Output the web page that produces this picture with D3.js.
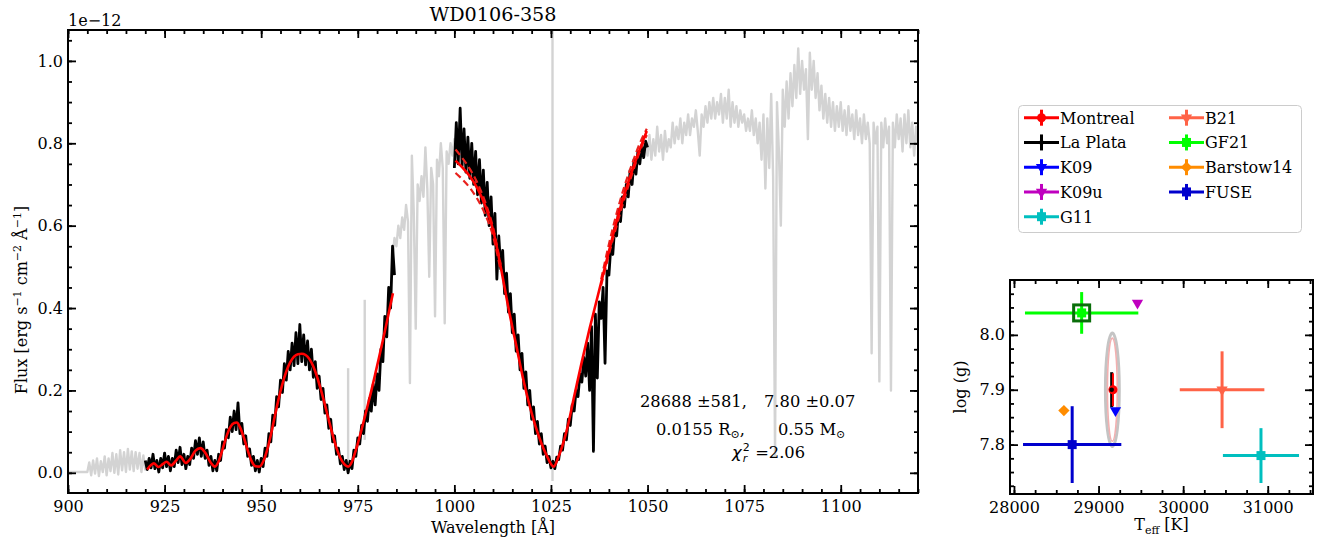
<!DOCTYPE html>
<html>
<head>
<meta charset="utf-8">
<script src="https://cdn.jsdelivr.net/npm/d3@7"></script>
<style>
  body { margin: 0; background: #fff; }
  svg text { font-family: 'DejaVu Serif', serif; fill: #000; }
</style>
</head>
<body>
<div id="chart"></div>
<script>
// ---- spectrum (flux in 1e-12 erg/s/cm2/A), sampled every 0.5 A from the start wavelength ----
const specStep = 0.5

// full spectrum (light grey), only the parts not hidden by the fitted data
const grayStartA = 900
const grayFluxA = [
  0.002, 0.002, 0.002, 0.002, 0.002, 0.002, 0.002, 0.002, 0.002, 0.002, 0.002,
  0.025, -0.006, 0.030, -0.002, 0.035, -0.008, 0.028, 0.002, 0.040, -0.006,
  0.035, 0.004, 0.048, 0.000, 0.045, -0.004, 0.055, 0.006, 0.050, 0.002,
  0.058, 0.008, 0.052, 0.004, 0.050, 0.010, 0.048, 0.002, 0.042, 0.008, 0.030
]
const grayStartB = 984
const grayFluxB = [
  0.52, 0.57, 0.55, 0.60, 0.57, 0.62, 0.59, 0.65, 0.61, 0.218,
  0.77, 0.63, 0.35, 0.70, 0.66, 0.72, 0.67, 0.79, 0.69, 0.476,
  0.74, 0.70, 0.38, 0.76, 0.72, 0.80, 0.74, 0.363, 0.78, 0.75,
  0.80, 0.77, 0.81, 0.78
]
const grayStartC = 1049.5
const grayFluxC = [
  0.80, 0.77, 0.82, 0.76, 0.81, 0.77, 0.84, 0.78, 0.82, 0.76,
  0.83, 0.78, 0.81, 0.79, 0.85, 0.80, 0.84, 0.81, 0.86, 0.80,
  0.85, 0.82, 0.87, 0.82, 0.86, 0.84, 0.88, 0.83, 0.77, 0.87,
  0.84, 0.89, 0.85, 0.90, 0.86, 0.91, 0.86, 0.90, 0.87, 0.92,
  0.85, 0.91, 0.86, 0.93, 0.84, 0.90, 0.85, 0.89, 0.84, 0.88,
  0.85, 0.87, 0.83, 0.86, 0.83, 0.88, 0.82, 0.86, 0.80, 0.85,
  0.76, 0.87, 0.69, 0.86, 0.74, 0.92, 0.72, 0.044, 0.90, 0.78,
  0.60, 0.93, 0.84, 0.95, 0.86, 0.97, 0.89, 0.99, 0.91, 1.03,
  0.92, 1.00, 0.93, 0.98, 0.81, 1.02, 0.93, 1.00, 0.91, 0.97,
  0.88, 0.94, 0.86, 0.92, 0.85, 0.91, 0.84, 0.90, 0.83, 0.89,
  0.84, 0.90, 0.83, 0.88, 0.82, 0.89, 0.83, 0.87, 0.81, 0.88,
  0.82, 0.86, 0.80, 0.87, 0.81, 0.85, 0.80, 0.29, 0.85, 0.80,
  0.84, 0.222, 0.85, 0.79, 0.86, 0.80, 0.84, 0.20, 0.85, 0.79,
  0.87, 0.81, 0.86, 0.78, 0.87, 0.80, 0.88, 0.79, 0.85, 0.77,
  0.84, 0.80
]
// narrow grey features sticking out of the fitted windows: [wavelength, low, high]
const graySpikes = [[972.5, 0.0, 0.254], [976.8, 0.08, 0.42], [1025.4, -0.02, 1.10]]

// fitted windows (black)
const fitStart1 = 920
const fitFlux1 = [
  0.030, 0.008, 0.035, 0.012, 0.045, 0.010, 0.030, 0.002, 0.035, 0.012,
  0.048, 0.015, 0.040, 0.005, 0.035, 0.015, 0.055, 0.025, 0.062, 0.020,
  0.045, 0.010, 0.040, 0.020, 0.060, 0.035, 0.078, 0.045, 0.085, 0.040,
  0.075, 0.035, 0.055, 0.018, 0.040, 0.005, 0.030, 0.005, 0.045, 0.030,
  0.075, 0.060, 0.105, 0.085, 0.135, 0.100, 0.150, 0.105, 0.170, 0.095,
  0.120, 0.070, 0.090, 0.040, 0.058, 0.018, 0.040, 0.005, 0.030, 0.002,
  0.035, 0.015, 0.060, 0.040, 0.095, 0.075, 0.140, 0.115, 0.185, 0.160,
  0.225, 0.195, 0.265, 0.225, 0.295, 0.250, 0.315, 0.260, 0.340, 0.265,
  0.360, 0.270, 0.335, 0.262, 0.320, 0.250, 0.300, 0.232, 0.270, 0.205,
  0.235, 0.178, 0.205, 0.145, 0.165, 0.108, 0.130, 0.075, 0.090, 0.045,
  0.060, 0.022, 0.040, 0.008, 0.030, 0.000, 0.028, 0.010, 0.055, 0.040,
  0.085, 0.070, 0.115, 0.095, 0.150, 0.125, 0.180, 0.150, 0.215, 0.165,
  0.240, 0.200, 0.300, 0.270, 0.380, 0.330, 0.450, 0.400, 0.550, 0.480
]
const fitStart2 = 1000
const fitFlux2 = [
  0.740, 0.850, 0.750, 0.885, 0.745, 0.835, 0.730, 0.815, 0.715, 0.800,
  0.700, 0.780, 0.675, 0.760, 0.655, 0.735, 0.625, 0.705, 0.600, 0.670,
  0.555, 0.630, 0.470, 0.575, 0.495, 0.540, 0.435, 0.485, 0.390, 0.435,
  0.340, 0.385, 0.295, 0.335, 0.250, 0.290, 0.205, 0.245, 0.165, 0.200,
  0.130, 0.160, 0.095, 0.125, 0.070, 0.095, 0.045, 0.065, 0.025, 0.040,
  0.012, 0.028, 0.010, 0.038, 0.032, 0.065, 0.055, 0.095, 0.080, 0.130,
  0.115, 0.165, 0.150, 0.200, 0.185, 0.240, 0.220, 0.280, 0.235, 0.315,
  0.200, 0.355, 0.052, 0.385, 0.230, 0.415, 0.375, 0.450, 0.266, 0.490,
  0.480, 0.550, 0.530, 0.595, 0.575, 0.640, 0.610, 0.670, 0.645, 0.700,
  0.670, 0.735, 0.700, 0.760, 0.725, 0.780, 0.750, 0.795, 0.765, 0.805,
  0.790
]

// best model (red, solid): [wavelength, flux]
const model1 = [
  [920.5, 0.008], [921.5, 0.019], [922.2, 0.023], [923.4, 0.014], [924.5, 0.021], [925.5, 0.027],
  [926.7, 0.018], [928, 0.030], [929, 0.040], [930.5, 0.024], [931.5, 0.032], [933, 0.054],
  [934.3, 0.060], [935.5, 0.049], [937, 0.024], [938, 0.015], [939, 0.028], [940, 0.057],
  [941, 0.088], [942, 0.111], [943, 0.121], [943.7, 0.122], [944.5, 0.111], [945.5, 0.086],
  [946.5, 0.055], [947.5, 0.029], [948.5, 0.016], [949.5, 0.015], [950.5, 0.027], [951.5, 0.054],
  [952.5, 0.092], [953.5, 0.136], [954.5, 0.179], [955.5, 0.216], [956.5, 0.246], [957.5, 0.268],
  [958.5, 0.282], [959.5, 0.288], [960.5, 0.289], [961.5, 0.286], [962.5, 0.276], [963.5, 0.258],
  [964.5, 0.232], [965.5, 0.200], [966.5, 0.165], [967.5, 0.128], [968.5, 0.092], [969.5, 0.060],
  [970.5, 0.036], [971.5, 0.021], [972.5, 0.015], [973.5, 0.027], [974.5, 0.055], [975.5, 0.088],
  [976.5, 0.124], [977.5, 0.161], [978.5, 0.199], [979.5, 0.239], [980.5, 0.280], [981.5, 0.322],
  [982.5, 0.365], [983.5, 0.410], [984.1, 0.436]
]
const model2 = [
  [1000.3, 0.758], [1002, 0.742], [1004, 0.72], [1006, 0.69], [1008, 0.648], [1010, 0.59],
  [1012, 0.50], [1014, 0.40], [1016, 0.31], [1018, 0.22], [1020, 0.145], [1022, 0.085],
  [1024, 0.04], [1025.7, 0.015], [1027, 0.04], [1029, 0.10], [1031, 0.185], [1033, 0.27],
  [1035, 0.35], [1037, 0.425], [1039, 0.50], [1041, 0.575], [1043, 0.645], [1045, 0.705],
  [1047, 0.76], [1049, 0.81], [1049.8, 0.83]
]
// alternative models (red, dashed), only where they separate from the best one
const altModels = [
  [[1000.3, 0.785], [1002, 0.765], [1004, 0.738], [1006, 0.703], [1008, 0.657], [1010, 0.596], [1012, 0.505]],
  [[1000.3, 0.728], [1002, 0.713], [1004, 0.692], [1006, 0.664], [1008, 0.627], [1010, 0.575], [1012, 0.49]],
  [[1038, 0.47], [1040, 0.555], [1042, 0.63], [1044, 0.695], [1046, 0.75], [1048, 0.80], [1049.8, 0.835]],
  [[1038, 0.455], [1040, 0.53], [1042, 0.60], [1044, 0.665], [1046, 0.725], [1048, 0.78], [1049.8, 0.82]]
]

const xTicks = [900, 925, 950, 975, 1000, 1025, 1050, 1075, 1100]
const yTicks = [0, 0.2, 0.4, 0.6, 0.8, 1.0]

// ---- Teff / log g comparison ----
const surveys = ['Montreal', 'La Plata', 'K09', 'K09u', 'G11', 'B21', 'GF21', 'Barstow14', 'FUSE']
const teff = [29170, 29155, 29200, 29460, 30920, 30460, 28800, 28590, 28688]
const teffErr = [15, 15, 0, 0, 450, 500, 670, 0, 581]
const logg = [7.90, 7.90, 7.862, 8.058, 7.78, 7.90, 8.04, 7.862, 7.80]
const loggErr = [0.03, 0.032, 0, 0, 0.05, 0.07, 0.038, 0, 0.07]
const contours = [
  { teff: 29163, logg: 7.90, dTeff: 82, dLogg: 0.1035 },
  { teff: 29163, logg: 7.90, dTeff: 58, dLogg: 0.094 }
]
const insetXTicks = [28000, 29000, 30000, 31000]
const insetYTicks = [7.8, 7.9, 8.0]

const style = {
    'Montreal': { color: 'red', marker: 'circle', lw: 2 },
    'La Plata': { color: 'black', marker: 'dot', lw: 3 },
    'K09': { color: 'blue', marker: 'v', lw: 3 },
    'K09u': { color: '#bf00bf', marker: 'v', lw: 3 },
    'G11': { color: '#00bfbf', marker: 'square', lw: 3 },
    'B21': { color: 'tomato', marker: 'v', lw: 3 },
    'GF21': { color: 'lime', marker: 'square', lw: 3 },
    'Barstow14': { color: 'darkorange', marker: 'diamond', lw: 3 },
    'FUSE': { color: 'mediumblue', marker: 'square', lw: 3 }
}

const svg = d3.select('#chart').append('svg').attr('width', 1332).attr('height', 543)

const grid = (start, flux) => flux.map((f, i) => [start + i * specStep, f])

// ---- main spectrum panel ----
const x = d3.scaleLinear().domain([900, 1120]).range([68, 918])
const y = d3.scaleLinear().domain([-0.049, 1.075]).range([493, 30])

svg.append('clipPath').attr('id', 'clip').append('rect')
    .attr('x', 68).attr('y', 30).attr('width', 850).attr('height', 463)

const spec = svg.append('g').attr('clip-path', 'url(#clip)')
const line = d3.line().x(d => x(d[0])).y(d => y(d[1]))

const grayLines = [grid(grayStartA, grayFluxA), grid(grayStartB, grayFluxB), grid(grayStartC, grayFluxC)]
    .concat(graySpikes.map(s => [[s[0], s[1]], [s[0], s[2]]]))
spec.selectAll('.gray').data(grayLines).enter().append('path')
    .attr('fill', 'none').attr('stroke', '#d3d3d3').attr('stroke-width', 2.4)
    .attr('stroke-linejoin', 'round')
    .attr('d', line)

spec.selectAll('.obs').data([grid(fitStart1, fitFlux1), grid(fitStart2, fitFlux2)]).enter().append('path')
    .attr('fill', 'none').attr('stroke', '#000').attr('stroke-width', 2.8)
    .attr('stroke-linejoin', 'round')
    .attr('d', line)

const smooth = d3.line().x(d => x(d[0])).y(d => y(d[1])).curve(d3.curveMonotoneX)
spec.selectAll('.alt').data(altModels).enter().append('path')
    .attr('fill', 'none').attr('stroke', '#e8201c').attr('stroke-width', 2.2)
    .attr('stroke-dasharray', '7,4').attr('d', smooth)
spec.selectAll('.model').data([model1, model2]).enter().append('path')
    .attr('fill', 'none').attr('stroke', 'red').attr('stroke-width', 2.6)
    .attr('d', smooth)

function frame(xs, ys, xMajor, xMinor, yMajor, yMinor, xFmt, yFmt) {
    const [x0, x1] = xs.range(), [y0, y1] = ys.range()
    const axes = svg.append('g')
    const add = (axis, tx, ty) => axes.append('g')
        .attr('transform', `translate(${tx},${ty})`)
        .call(axis)
        .call(g => g.select('.domain').remove())
    add(d3.axisBottom(xs).tickValues(xMajor).tickSize(-8).tickPadding(8).tickFormat(xFmt), 0, y0)
    add(d3.axisBottom(xs).tickValues(xMinor).tickSize(-4).tickFormat(''), 0, y0)
    add(d3.axisTop(xs).tickValues(xMajor).tickSize(-8).tickFormat(''), 0, y1)
    add(d3.axisTop(xs).tickValues(xMinor).tickSize(-4).tickFormat(''), 0, y1)
    add(d3.axisLeft(ys).tickValues(yMajor).tickSize(-8).tickPadding(5).tickFormat(yFmt), x0, 0)
    add(d3.axisLeft(ys).tickValues(yMinor).tickSize(-4).tickFormat(''), x0, 0)
    add(d3.axisRight(ys).tickValues(yMajor).tickSize(-8).tickFormat(''), x1, 0)
    add(d3.axisRight(ys).tickValues(yMinor).tickSize(-4).tickFormat(''), x1, 0)
    axes.selectAll('.tick line').attr('stroke', '#000').attr('stroke-width', 1.8)
    axes.selectAll('text').attr('font-size', 16).attr('font-family', 'DejaVu Serif').attr('fill', '#000')
    axes.append('rect')
        .attr('x', x0).attr('y', y1).attr('width', x1 - x0).attr('height', y0 - y1)
        .attr('fill', 'none').attr('stroke', '#000').attr('stroke-width', 2)
}

frame(x, y, xTicks, d3.range(900, 1121, 5), yTicks, d3.range(0, 1.07, 0.05),
    d3.format('d'), d3.format('.1f'))

svg.append('text').attr('x', 493).attr('y', 21).attr('text-anchor', 'middle')
    .attr('font-size', 19.2).text('WD0106-358')
svg.append('text').attr('x', 68).attr('y', 26).attr('font-size', 16).text('1e\u221212')
svg.append('text').attr('x', 493).attr('y', 533).attr('text-anchor', 'middle')
    .attr('font-size', 16).text('Wavelength [\u00c5]')

const ylab = svg.append('text').attr('transform', 'translate(27,300) rotate(-90)')
    .attr('text-anchor', 'middle').attr('font-size', 16)
ylab.append('tspan').text('Flux [erg s')
ylab.append('tspan').attr('font-size', 11).attr('dy', -6).text('\u22121')
ylab.append('tspan').attr('dy', 6).text(' cm')
ylab.append('tspan').attr('font-size', 11).attr('dy', -6).text('\u22122')
ylab.append('tspan').attr('dy', 6).text(' \u00c5')
ylab.append('tspan').attr('font-size', 11).attr('dy', -6).text('\u22121')
ylab.append('tspan').attr('dy', 6).text(']')

// fit summary
const note = svg.append('g').attr('font-size', 16.3)
note.append('text').attr('x', 640).attr('y', 407).text('28688 \u00b1581,')
note.append('text').attr('x', 764).attr('y', 407).text('7.80 \u00b10.07')
const r1 = note.append('text').attr('x', 656).attr('y', 435)
r1.append('tspan').text('0.0155 R')
r1.append('tspan').attr('font-size', 11).attr('dy', 3).text('\u2299')
r1.append('tspan').attr('dy', -3).text(',')
const r2 = note.append('text').attr('x', 778).attr('y', 435)
r2.append('tspan').text('0.55 M')
r2.append('tspan').attr('font-size', 11).attr('dy', 3).text('\u2299')
const chi = note.append('text').attr('x', 732).attr('y', 458)
chi.append('tspan').attr('font-family', 'DejaVu Sans').attr('font-style', 'italic').text('\u03c7')
chi.append('tspan').attr('font-family', 'DejaVu Sans').attr('font-size', 11).attr('dx', 1).attr('dy', -7).text('2')
chi.append('tspan').attr('font-family', 'DejaVu Sans').attr('font-style', 'italic')
    .attr('font-size', 11).attr('dx', -7).attr('dy', 11).text('r')
chi.append('tspan').attr('dx', 8).attr('dy', -4).text('=2.06')

// ---- Teff / log g inset ----
const xi = d3.scaleLinear().domain([27953, 31535]).range([1010, 1313])
const yi = d3.scaleLinear().domain([7.71, 8.10]).range([494, 280])

function marker(g, type, color, cx, cy) {
    const t = `translate(${cx},${cy})`
    if (type === 'circle') g.append('circle').attr('cx', cx).attr('cy', cy).attr('r', 4.5).attr('fill', color)
    else if (type === 'dot') g.append('circle').attr('cx', cx).attr('cy', cy).attr('r', 2.3).attr('fill', color)
    else if (type === 'square') g.append('path').attr('d', d3.symbol(d3.symbolSquare, 81)()).attr('transform', t).attr('fill', color)
    else if (type === 'diamond') g.append('path').attr('d', d3.symbol(d3.symbolSquare, 64)()).attr('transform', t + ' rotate(45)').attr('fill', color)
    else if (type === 'v') g.append('path').attr('d', d3.symbol(d3.symbolTriangle, 55)()).attr('transform', t + ' rotate(180)').attr('fill', color)
}

const inset = svg.append('g')
contours.forEach((c, i) => {
    inset.append('ellipse')
        .attr('cx', xi(c.teff)).attr('cy', yi(c.logg))
        .attr('rx', xi(c.teff + c.dTeff) - xi(c.teff)).attr('ry', yi(c.logg) - yi(c.logg + c.dLogg))
        .attr('fill', 'none')
        .attr('stroke', i === 0 ? '#c4c4c4' : '#f2b0b0')
        .attr('stroke-width', i === 0 ? 3 : 1.6)
})

const order = [1, 0, 2, 3, 4, 5, 6, 7, 8]
order.forEach(i => {
    const s = style[surveys[i]]
    if (teffErr[i] > 0) inset.append('line')
        .attr('x1', xi(teff[i] - teffErr[i])).attr('x2', xi(teff[i] + teffErr[i]))
        .attr('y1', yi(logg[i])).attr('y2', yi(logg[i]))
        .attr('stroke', s.color).attr('stroke-width', s.lw)
    if (loggErr[i] > 0) inset.append('line')
        .attr('x1', xi(teff[i])).attr('x2', xi(teff[i]))
        .attr('y1', yi(logg[i] - loggErr[i])).attr('y2', yi(logg[i] + loggErr[i]))
        .attr('stroke', s.color).attr('stroke-width', s.lw)
})
surveys.forEach((name, i) => marker(inset, style[name].marker, style[name].color, xi(teff[i]), yi(logg[i])))

// highlighted adopted value (GF21)
const gf = surveys.indexOf('GF21')
inset.append('rect')
    .attr('x', xi(teff[gf]) - 8).attr('y', yi(logg[gf]) - 8).attr('width', 16).attr('height', 16)
    .attr('fill', 'none').attr('stroke', '#0a6e0a').attr('stroke-width', 3)

frame(xi, yi, insetXTicks, d3.range(28000, 31501, 250), insetYTicks, d3.range(7.725, 8.09, 0.025),
    d3.format('d'), d3.format('.1f'))

svg.append('text').attr('transform', 'translate(966,387) rotate(-90)')
    .attr('text-anchor', 'middle').attr('font-size', 16).text('log (g)')
const tl = svg.append('text').attr('x', 1161.5).attr('y', 530).attr('text-anchor', 'middle').attr('font-size', 16)
tl.append('tspan').text('T')
tl.append('tspan').attr('font-size', 11).attr('dy', 4).text('eff')
tl.append('tspan').attr('dy', -4).text(' [K]')

// ---- legend ----
const legend = svg.append('g')
legend.append('rect').attr('x', 1018.5).attr('y', 105.5).attr('width', 283).attr('height', 127)
    .attr('rx', 4).attr('fill', '#fff').attr('stroke', '#cccccc').attr('stroke-width', 1)

surveys.forEach((name, i) => {
    const col = i < 5 ? 0 : 1
    const row = i < 5 ? i : i - 5
    const lx = col === 0 ? 1024 : 1169
    const ly = 117.7 + row * 24.75
    const s = style[name]
    const g = legend.append('g')
    g.append('line').attr('x1', lx).attr('x2', lx + 35).attr('y1', ly).attr('y2', ly)
        .attr('stroke', s.color).attr('stroke-width', 3)
    g.append('line').attr('x1', lx + 17.5).attr('x2', lx + 17.5).attr('y1', ly - 8).attr('y2', ly + 8)
        .attr('stroke', s.color).attr('stroke-width', 3)
    marker(g, s.marker, s.color, lx + 17.5, ly)
    g.append('text').attr('x', lx + 36).attr('y', ly + 5.8).attr('font-size', 16).text(name)
})
</script>
</body>
</html>
